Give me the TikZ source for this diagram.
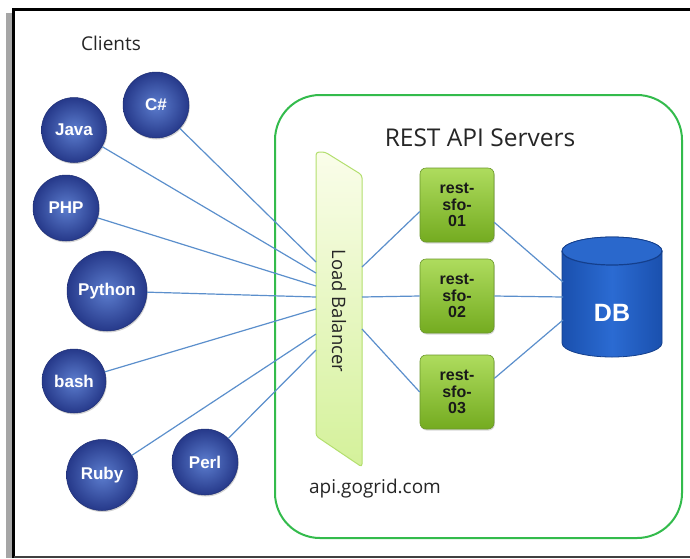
\documentclass[tikz,border=0pt]{standalone}
\usepackage{fontspec}
\setmainfont{Liberation Sans}
\newfontfamily\lightfont{Open Sans}
\usetikzlibrary{shadows}
\definecolor{linkblue}{HTML}{5B8FCC}
\definecolor{ballin}{HTML}{5C7DCE}
\definecolor{ballout}{HTML}{26398A}
\definecolor{servtop}{HTML}{AEDC5E}
\definecolor{servbot}{HTML}{74AB20}
\definecolor{servedge}{HTML}{6A972A}
\definecolor{lbtop}{HTML}{FAFDEA}
\definecolor{lbbot}{HTML}{D4F19A}
\definecolor{lbedge}{HTML}{B3DF6E}
\definecolor{boxgreen}{HTML}{33BB4C}
\definecolor{txt}{HTML}{262626}
\definecolor{dbbody}{HTML}{2B6BD2}
\definecolor{dbdark}{HTML}{1A50AE}
\definecolor{dbtop}{HTML}{2A68CC}
\definecolor{dbedge}{HTML}{143F8C}
\begin{document}
\begin{tikzpicture}[x=1pt,y=-1pt,
  conn/.style={draw=linkblue, line width=1.2pt},
  client/.style={circle, inner sep=0pt, minimum size=#1, inner color=ballin, outer color=ballout,
    draw=ballout!85!black, line width=0.5pt, text=white,
    font=\bfseries\fontsize{17}{17}\selectfont,
    drop shadow={opacity=0.35, shadow xshift=0.8pt, shadow yshift=-1.5pt}},
  server/.style={rectangle, rounded corners=6pt, minimum width=74pt, minimum height=74pt,
    inner sep=0pt, top color=servtop, bottom color=servbot, draw=servedge, line width=0.6pt,
    align=center, text=black!90,
    font=\bfseries\fontsize{16}{16.7}\selectfont,
    drop shadow={opacity=0.3, shadow xshift=0.8pt, shadow yshift=-1.5pt}},
  plain/.style={text=txt, inner sep=0pt},
]
\useasboundingbox (0,0) rectangle (690,558);
\fill[white] (0,0) rectangle (690,558);
% frame
\fill[black!35] (6,13) rectangle (12,558);
\draw[line width=3pt] (13,558) -- (13,9) -- (690,9);
\draw[line width=2pt, black!75] (14,557) -- (690,557);

% container
\draw[boxgreen, line width=2pt, rounded corners=45pt] (275,95) rectangle (682,538);
\node[plain, font=\lightfont\fontsize{24.5}{24.5}\selectfont] (title) at (480,138) {REST API Servers};
\node[plain, font=\lightfont\fontsize{19}{19}\selectfont] (api) at (375,489) {api.gogrid.com};
\node[plain, font=\lightfont\fontsize{19}{19}\selectfont] (clients) at (111,43) {Clients};

% load balancer
\shade[top color=lbtop, bottom color=lbbot, draw=lbedge, line width=1pt, rounded corners=3pt]
  (316,152) -- (325,152) -- (362,175) -- (362,467) -- (316,436) -- cycle;
\node[plain, rotate=-90, font=\lightfont\fontsize{18.5}{18.5}\selectfont] (lb) at (339,311) {Load Balancer};
\foreach \i/\y in {1/262,2/273,3/286,4/297,5/309,6/334,7/350}
  \coordinate (lbl\i) at (316,\y);
\foreach \i/\y in {1/267,2/297,3/329}
  \coordinate (lbr\i) at (362,\y);

% DB cylinder
\shade[left color=dbdark, right color=dbdark, middle color=dbbody, draw=dbedge, line width=0.8pt]
  (562,251) -- (562,343) arc[start angle=180, end angle=360, x radius=50pt, y radius=14pt]
  -- (662,251) arc[start angle=0, end angle=180, x radius=50pt, y radius=14pt] -- cycle;
\fill[dbtop] (612,251) ellipse[x radius=50pt, y radius=14pt];
\draw[dbedge, line width=1.2pt] (562,251) arc[start angle=180, end angle=360, x radius=50pt, y radius=14pt];
\draw[dbedge, line width=0.8pt] (662,251) arc[start angle=0, end angle=180, x radius=50pt, y radius=14pt];
\node[text=white, font=\bfseries\fontsize{25}{25}\selectfont, inner sep=0pt] (db) at (612,313) {DB};
\coordinate (db1) at (563,282);
\coordinate (db2) at (563,297);
\coordinate (db3) at (563,320);

% servers
\node[server] (r1) at (457,205) {rest-\\sfo-\\01};
\node[server] (r2) at (457,296) {rest-\\sfo-\\02};
\node[server] (r3) at (457,392) {rest-\\sfo-\\03};

% clients
\node[client=66pt] (cs) at (156,105) {C\#};
\node[client=65pt] (java) at (74,130) {Java};
\node[client=66pt] (php) at (66,208) {PHP};
\node[client=80pt] (python) at (107,291) {Python};
\node[client=64pt] (bash) at (74,381) {bash};
\node[client=71pt] (ruby) at (102,475) {Ruby};
\node[client=66pt] (perl) at (205,462) {Perl};

% connectors
\draw[conn] (cs) -- (lbl1);
\draw[conn] (java) -- (lbl2);
\draw[conn] (php) -- (lbl3);
\draw[conn] (python) -- (lbl4);
\draw[conn] (bash) -- (lbl5);
\draw[conn] (ruby) -- (lbl6);
\draw[conn] (perl) -- (lbl7);
\draw[conn] (lbr1) -- (r1.190);
\draw[conn] (lbr2) -- (r2.west);
\draw[conn] (lbr3) -- (r3.west);
\draw[conn] (r1.335) -- (db1);
\draw[conn] (r2.east) -- (db2);
\draw[conn] (r3.20) -- (db3);
\end{tikzpicture}
\end{document}
